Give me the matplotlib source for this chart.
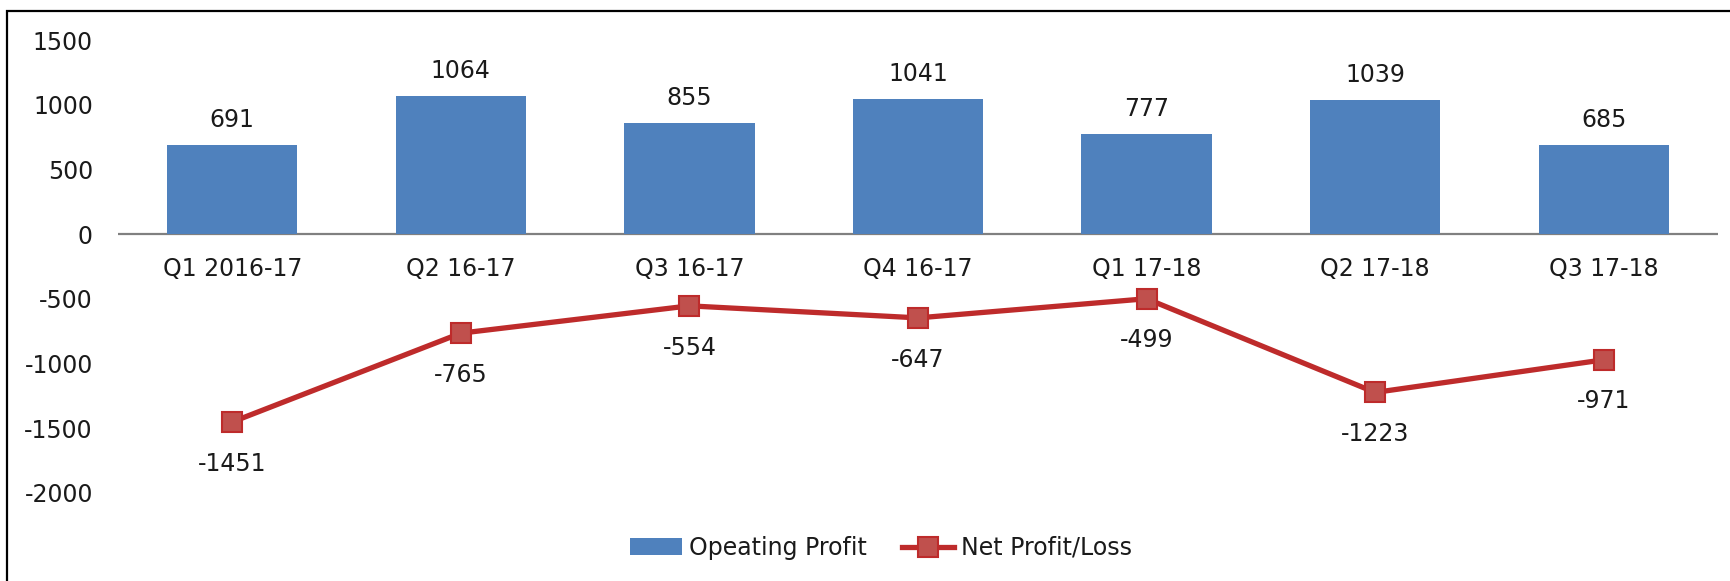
import numpy as np
import matplotlib.pyplot as plt
from matplotlib.patches import Rectangle

# --- Data ---
quarters = ["Q1 2016-17", "Q2 16-17", "Q3 16-17", "Q4 16-17",
            "Q1 17-18", "Q2 17-18", "Q3 17-18"]
operating_profit = [691, 1064, 855, 1041, 777, 1039, 685]
net_profit = [-1451, -765, -554, -647, -499, -1223, -971]
y_ticks = [1500, 1000, 500, 0, -500, -1000, -1500, -2000]

bar_color = "#4F81BD"
line_color = "#BE2B2B"
marker_face = "#C0504D"
text_color = "#1a1a1a"
fs = 17

plt.rcParams['font.family'] = 'DejaVu Sans'

fig = plt.figure(figsize=(17.31, 5.81), dpi=100)
ax = fig.add_axes([118 / 1731, 1 - 493 / 581, 1600 / 1731, (493 - 40) / 581])

x = np.arange(len(quarters))
bars = ax.bar(x, operating_profit, width=0.57, color=bar_color,
              label="Opeating Profit", zorder=2)
line, = ax.plot(x, net_profit, color=line_color, linewidth=3.8, marker='s',
                markersize=15, markerfacecolor=marker_face,
                markeredgecolor=line_color, markeredgewidth=1.5,
                label="Net Profit/Loss", zorder=3)

# zero line
ax.axhline(0, color="#808080", linewidth=1.6, zorder=1)

# data labels
for xi, v in zip(x, operating_profit):
    ax.annotate(str(v), (xi, v), xytext=(0, 18), textcoords='offset points',
                ha='center', va='center', fontsize=fs, color=text_color)
for xi, v in zip(x, net_profit):
    ax.annotate(str(v), (xi, v), xytext=(0, -30), textcoords='offset points',
                ha='center', va='center', fontsize=fs, color=text_color)

# category labels sit next to the zero line
for xi, q in zip(x, quarters):
    ax.annotate(q, (xi, 0), xytext=(0, -25), textcoords='offset points',
                ha='center', va='center', fontsize=fs, color=text_color)

ax.set_xlim(-0.5, len(quarters) - 0.5)
ax.set_ylim(-2000, 1500)
ax.set_yticks(y_ticks)
ax.set_yticklabels([str(t) for t in y_ticks])
ax.set_xticks([])
ax.tick_params(axis='y', length=0, pad=18, labelsize=fs, labelcolor=text_color)
for s in ax.spines.values():
    s.set_visible(False)

fig.legend([bars, line], ["Opeating Profit", "Net Profit/Loss"],
           loc='center', bbox_to_anchor=(0.509, 0.057), ncol=2, frameon=False,
           fontsize=fs, handlelength=2.2, columnspacing=1.5, handletextpad=0.3,
           labelcolor=text_color)

# chart border (top and left visible in crop)
fig.patches.append(Rectangle((7 / 1731, -0.5), 2, 1.5 - 11 / 581,
                             transform=fig.transFigure, fill=False,
                             edgecolor='black', linewidth=1.6))

fig.savefig("out.png", dpi=100)
